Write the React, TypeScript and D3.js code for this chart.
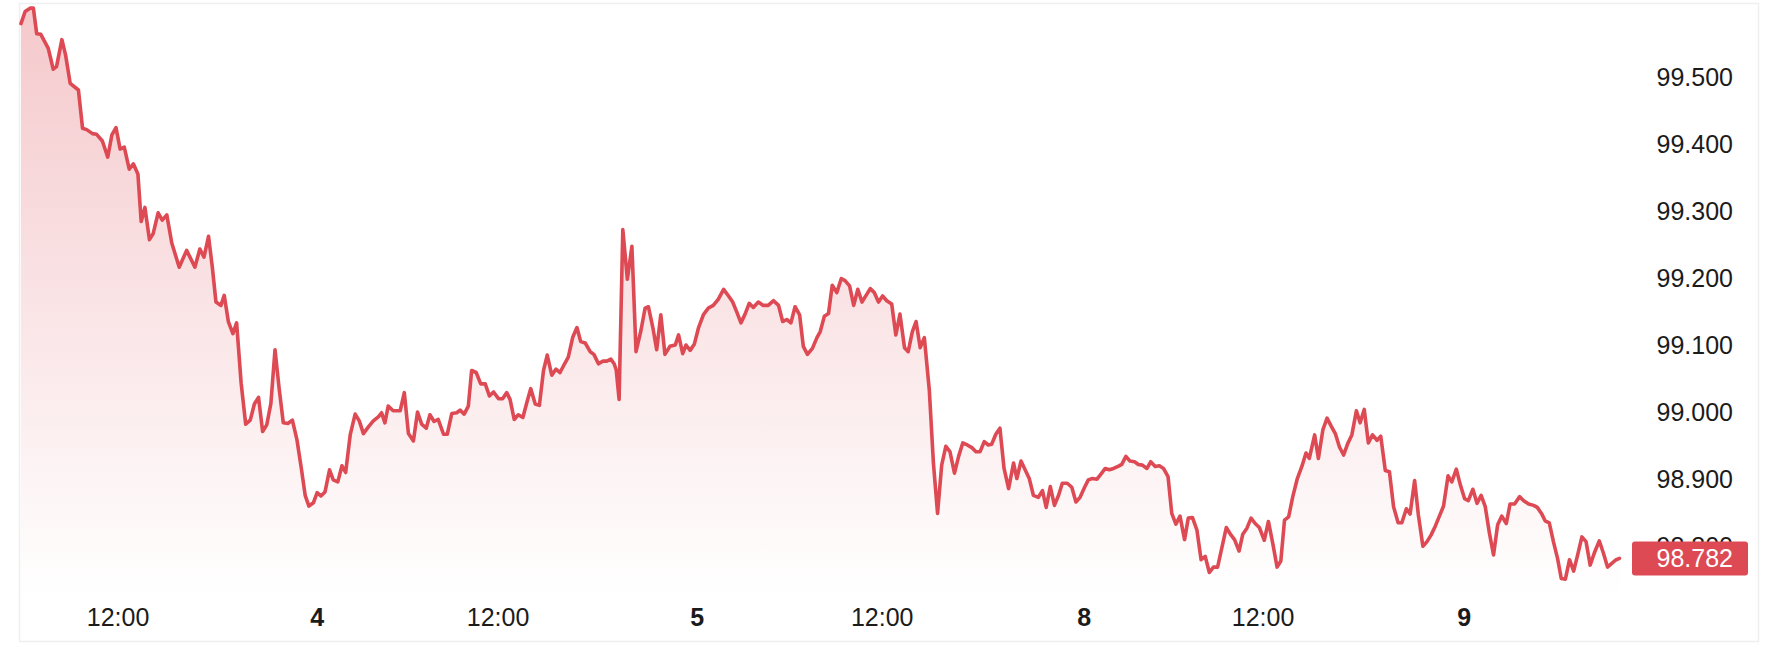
import React, { useEffect, useRef } from 'react';
import * as d3 from 'd3';

// 15분봉 위치(세션 기준 봉 번호)와 종가
const barTimes = [
  0, 1.0, 2.2, 3.0, 3.8, 4.8, 6.6, 7.8, 8.6, 9.9, 10.8, 11.9, 13.9, 14.9, 15.9, 17.3, 18.3, 19.7, 21.0, 22.0,
  23.0, 24.0, 25.0, 26.2, 27.2, 28.3, 29.1, 30.0, 31.1, 32.0, 33.2, 34.2, 35.3, 36.5, 38.3, 40.1, 42.1, 43.3, 44.3, 45.4,
  46.3, 47.2, 48.4, 49.2, 50.2, 51.3, 52.2, 53.3, 54.4, 55.5, 56.5, 57.5, 58.5, 59.5, 60.5, 61.5, 62.5, 63.5, 64.6, 65.7,
  66.8, 67.8, 68.8, 69.7, 70.8, 71.7, 72.6, 73.6, 74.7, 75.6, 76.7, 77.7, 78.6, 79.7, 80.9, 81.9, 82.9, 84.1, 85.3, 86.5,
  87.3, 88.1, 88.9, 90.1, 91.8, 92.8, 93.8, 95.0, 96.0, 97.0, 98.1, 99.0, 100.0, 101.0, 102.3, 103.2, 104.3, 105.5, 106.3, 107.3,
  108.3, 109.1, 110.2, 111.3, 112.4, 113.4, 114.4, 115.6, 116.6, 117.6, 118.4, 119.4, 120.4, 121.5, 122.5, 123.4, 124.5, 125.5, 126.5, 127.4,
  128.5, 129.5, 130.5, 131.6, 132.5, 133.6, 134.6, 135.5, 136.6, 137.8, 138.7, 139.8, 140.9, 141.8, 142.8, 143.6, 144.1, 144.8, 145.7, 146.8,
  147.9, 148.9, 150.1, 151.1, 151.9, 153.0, 153.9, 154.9, 155.9, 157.1, 158.4, 159.2, 160.2, 161.0, 162.0, 163.0, 164.0, 165.2, 166.4, 167.6,
  168.8, 170.1, 171.3, 172.3, 173.3, 174.3, 175.3, 176.3, 177.3, 178.5, 179.7, 180.9, 182.2, 183.4, 184.4, 185.4, 186.4, 187.4, 188.5, 189.4,
  190.4, 191.6, 192.7, 193.5, 194.5, 195.5, 196.4, 197.5, 198.6, 199.5, 200.6, 201.6, 202.6, 203.6, 204.6, 205.6, 206.6, 207.6, 208.6, 209.6,
  210.8, 211.8, 212.8, 213.9, 214.8, 215.8, 216.7, 217.7, 218.7, 219.9, 220.9, 221.9, 222.9, 223.9, 224.9, 226.0, 227.0, 228.0, 229.1, 230.2,
  231.2, 232.2, 233.2, 234.2, 235.0, 236.0, 237.0, 238.0, 239.1, 240.3, 241.1, 242.1, 243.1, 244.1, 245.1, 246.3, 247.3, 248.2, 249.2, 250.2,
  251.2, 252.1, 253.3, 254.4, 255.4, 256.4, 257.5, 258.4, 259.4, 260.5, 261.5, 262.5, 263.5, 264.5, 265.6, 266.5, 267.5, 268.5, 269.6, 270.5,
  271.5, 272.6, 273.5, 274.6, 275.6, 276.6, 277.7, 278.6, 279.6, 280.6, 281.7, 282.6, 283.6, 284.7, 285.7, 286.7, 287.7, 288.7, 289.7, 291.8,
  292.7, 293.8, 294.9, 295.8, 296.8, 297.8, 298.8, 299.8, 301.0, 302.0, 303.1, 304.1, 305.0, 305.9, 306.9, 307.9, 309.0, 310.1, 311.1, 311.9,
  313.2, 314.1, 315.2, 316.2, 317.2, 318.2, 319.2, 320.2, 321.2, 322.2, 323.3, 324.2, 325.2, 326.2, 327.2, 328.3, 329.2, 330.3, 331.3, 332.3,
  333.4, 334.3, 335.4, 336.3, 337.4, 338.3, 339.4, 340.4, 341.4, 342.4, 343.4, 344.4, 345.5, 346.4, 347.5, 348.4, 349.5, 350.4, 351.5, 352.5,
  353.5, 354.5, 355.5, 356.5, 357.5, 358.5, 359.6, 360.5, 361.6, 362.8, 363.8, 365.0, 366.2, 367.1, 368.2, 369.0, 370.0, 371.0, 372.0, 372.9,
  373.9, 374.9, 375.9, 376.9, 377.9, 378.9, 379.9, 380.9, 382.1, 383.1, 384.1, 385.2, 386.2, 387.0,
];

const prices = [
  99.579, 99.597, 99.602, 99.602, 99.564, 99.563, 99.542, 99.511, 99.515, 99.555, 99.532, 99.49, 99.48, 99.423, 99.421, 99.415, 99.414, 99.404, 99.38, 99.413,
  99.424, 99.392, 99.395, 99.362, 99.37, 99.355, 99.284, 99.305, 99.257, 99.266, 99.297, 99.286, 99.294, 99.252, 99.216, 99.241, 99.216, 99.243, 99.231, 99.262,
  99.217, 99.164, 99.159, 99.174, 99.135, 99.117, 99.133, 99.043, 98.982, 98.988, 99.012, 99.022, 98.971, 98.981, 99.013, 99.093, 99.035, 98.984, 98.983, 98.988,
  98.959, 98.919, 98.876, 98.86, 98.865, 98.88, 98.875, 98.881, 98.914, 98.899, 98.896, 98.92, 98.91, 98.966, 98.997, 98.987, 98.968, 98.978, 98.987, 98.993,
  98.999, 98.984, 99.009, 99.002, 99.002, 99.029, 98.968, 98.957, 99.0, 98.982, 98.976, 98.996, 98.986, 98.989, 98.967, 98.967, 98.998, 98.999, 99.003, 98.997,
  99.009, 99.062, 99.059, 99.042, 99.042, 99.024, 99.03, 99.02, 99.02, 99.029, 99.019, 98.989, 98.996, 98.992, 99.015, 99.035, 99.012, 99.01, 99.062, 99.085,
  99.055, 99.064, 99.059, 99.072, 99.082, 99.112, 99.126, 99.105, 99.103, 99.09, 99.086, 99.072, 99.076, 99.076, 99.079, 99.072, 99.063, 99.019, 99.272, 99.198,
  99.247, 99.09, 99.122, 99.155, 99.157, 99.125, 99.093, 99.145, 99.086, 99.098, 99.1, 99.115, 99.087, 99.1, 99.092, 99.101, 99.125, 99.145, 99.155, 99.159,
  99.168, 99.183, 99.173, 99.164, 99.149, 99.133, 99.146, 99.162, 99.156, 99.164, 99.159, 99.159, 99.166, 99.159, 99.135, 99.138, 99.133, 99.157, 99.145, 99.098,
  99.086, 99.095, 99.111, 99.12, 99.143, 99.147, 99.189, 99.178, 99.199, 99.196, 99.188, 99.159, 99.183, 99.164, 99.174, 99.184, 99.178, 99.164, 99.173, 99.166,
  99.161, 99.115, 99.146, 99.096, 99.09, 99.12, 99.135, 99.096, 99.111, 99.033, 98.924, 98.849, 98.921, 98.949, 98.941, 98.909, 98.934, 98.954, 98.951, 98.947,
  98.941, 98.941, 98.956, 98.951, 98.952, 98.967, 98.976, 98.916, 98.886, 98.924, 98.901, 98.927, 98.914, 98.901, 98.876, 98.873, 98.883, 98.858, 98.889, 98.861,
  98.876, 98.894, 98.894, 98.888, 98.866, 98.873, 98.888, 98.899, 98.901, 98.9, 98.908, 98.916, 98.914, 98.916, 98.919, 98.922, 98.934, 98.927, 98.926, 98.922,
  98.921, 98.916, 98.926, 98.919, 98.92, 98.916, 98.904, 98.849, 98.833, 98.845, 98.81, 98.842, 98.843, 98.824, 98.78, 98.785, 98.761, 98.769, 98.769, 98.828,
  98.819, 98.81, 98.793, 98.818, 98.827, 98.842, 98.834, 98.828, 98.809, 98.837, 98.803, 98.769, 98.778, 98.839, 98.844, 98.874, 98.901, 98.919, 98.939, 98.931,
  98.966, 98.931, 98.974, 98.991, 98.979, 98.968, 98.948, 98.936, 98.953, 98.966, 99.002, 98.984, 99.004, 98.954, 98.966, 98.958, 98.964, 98.913, 98.911, 98.859,
  98.835, 98.835, 98.856, 98.848, 98.898, 98.847, 98.8, 98.807, 98.817, 98.83, 98.845, 98.86, 98.905, 98.896, 98.915, 98.893, 98.871, 98.868, 98.885, 98.864,
  98.876, 98.859, 98.82, 98.787, 98.832, 98.845, 98.834, 98.863, 98.863, 98.874, 98.868, 98.863, 98.861, 98.858, 98.848, 98.838, 98.835, 98.807, 98.782, 98.752,
  98.751, 98.78, 98.763, 98.788, 98.814, 98.807, 98.772, 98.79, 98.808, 98.79, 98.769, 98.775, 98.78, 98.782,
];

// x축 눈금 (봉 번호 기준)
const xTickBars = [23.5, 71.7, 115.5, 163.7, 208.5, 257.4, 300.7, 349.4];
const xTickLabels = ['12:00', '4', '12:00', '5', '12:00', '8', '12:00', '9'];
const xTickIsDay = [false, true, false, true, false, true, false, true];

const yTickValues = [99.5, 99.4, 99.3, 99.2, 99.1, 99.0, 98.9, 98.8];
const lastPrice = 98.782;

const W = 1780;
const H = 669;
const RED = '#dd4a54';
const FONT = '"Liberation Sans", Arial, Helvetica, sans-serif';

const PriceChart = () => {
  const svgRef = useRef<SVGSVGElement | null>(null);

  useEffect(() => {
    if (!svgRef.current) return;
    const svg = d3.select(svgRef.current);
    svg.selectAll('*').remove();

    const xScale = d3.scaleLinear().domain([0, 387]).range([21, 1619.5]);
    const yScale = d3.scaleLinear().domain([98.8, 99.5]).range([546.3, 76.6]);
    const baseY = 598;

    // 바깥 테두리
    svg
      .append('rect')
      .attr('x', 19.5)
      .attr('y', 3.5)
      .attr('width', 1739)
      .attr('height', 638)
      .attr('fill', '#fff')
      .attr('stroke', '#efefef')
      .attr('stroke-width', 1.5);

    const defs = svg.append('defs');
    const grad = defs
      .append('linearGradient')
      .attr('id', 'areaFill')
      .attr('gradientUnits', 'userSpaceOnUse')
      .attr('x1', 0)
      .attr('x2', 0)
      .attr('y1', yScale(99.6))
      .attr('y2', baseY);
    grad.append('stop').attr('offset', '0%').attr('stop-color', RED).attr('stop-opacity', 0.3);
    grad.append('stop').attr('offset', '100%').attr('stop-color', RED).attr('stop-opacity', 0);

    const points = prices.map((p, i) => [barTimes[i], p] as [number, number]);

    const area = d3
      .area<[number, number]>()
      .x((d) => xScale(d[0]))
      .y0(baseY)
      .y1((d) => yScale(d[1]));

    const line = d3
      .line<[number, number]>()
      .x((d) => xScale(d[0]))
      .y((d) => yScale(d[1]));

    svg.append('path').datum(points).attr('d', area).attr('fill', 'url(#areaFill)');

    svg
      .append('path')
      .datum(points)
      .attr('d', line)
      .attr('fill', 'none')
      .attr('stroke', RED)
      .attr('stroke-width', 3.6)
      .attr('stroke-linejoin', 'round')
      .attr('stroke-linecap', 'round');

    // y축 라벨
    svg
      .append('g')
      .selectAll('text')
      .data(yTickValues)
      .enter()
      .append('text')
      .attr('x', 1733)
      .attr('y', (d) => yScale(d))
      .attr('dy', '0.36em')
      .attr('text-anchor', 'end')
      .attr('font-family', FONT)
      .attr('font-size', 25)
      .attr('fill', '#1b1b1b')
      .text((d) => d3.format('.3f')(d));

    // x축 라벨
    svg
      .append('g')
      .selectAll('text')
      .data(xTickBars)
      .enter()
      .append('text')
      .attr('x', (d) => xScale(d))
      .attr('y', 617)
      .attr('dy', '0.36em')
      .attr('text-anchor', 'middle')
      .attr('font-family', FONT)
      .attr('font-size', 25)
      .attr('font-weight', (_d, i) => (xTickIsDay[i] ? 700 : 400))
      .attr('fill', '#1b1b1b')
      .text((_d, i) => xTickLabels[i]);

    // 현재가 뱃지 (98.800 라벨 위에 겹쳐 그림)
    const ly = yScale(lastPrice);
    svg
      .append('rect')
      .attr('x', 1632)
      .attr('y', ly - 17)
      .attr('width', 116)
      .attr('height', 34)
      .attr('rx', 3)
      .attr('fill', RED);

    svg
      .append('text')
      .attr('x', 1733)
      .attr('y', ly)
      .attr('dy', '0.36em')
      .attr('text-anchor', 'end')
      .attr('font-family', FONT)
      .attr('font-size', 25)
      .attr('fill', '#fff')
      .text(d3.format('.3f')(lastPrice));
  }, []);

  return (
    <svg
      ref={svgRef}
      width={W}
      height={H}
      style={{ position: 'absolute', left: 0, top: 0, background: '#fff' }}
    />
  );
};

export default function App() {
  return <PriceChart />;
}
